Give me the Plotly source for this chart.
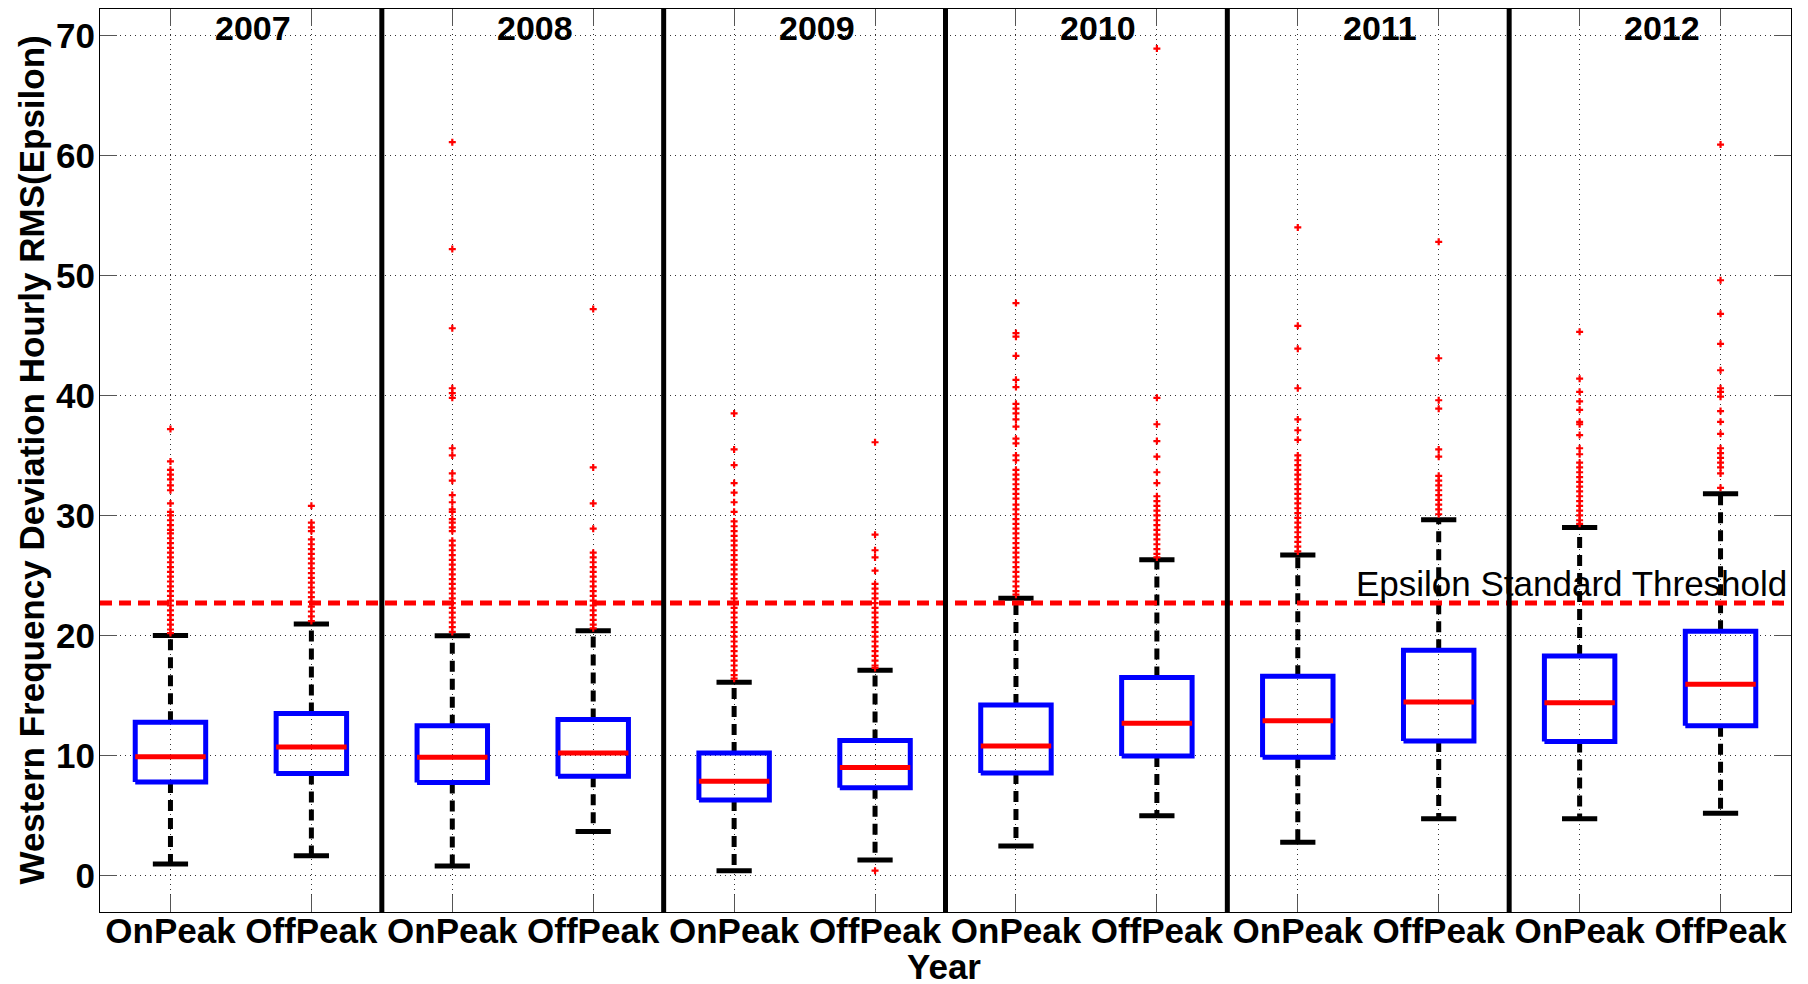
import plotly.graph_objects as go

# ---------------- data ----------------
years = ["2007", "2008", "2009", "2010", "2011", "2012"]
periods = ["OnPeak", "OffPeak"]

# box statistics, order: 2007 On, 2007 Off, 2008 On, ... 2012 Off
lower_whisker = [0.96, 1.65, 0.80, 3.67, 0.40, 1.30, 2.46, 4.98, 2.78, 4.72, 4.72, 5.19]
q1_vals       = [7.80, 8.50, 7.76, 8.28, 6.30, 7.32, 8.54, 9.96, 9.85, 11.20, 11.16, 12.47]
median_vals   = [9.90, 10.70, 9.85, 10.20, 7.86, 9.00, 10.80, 12.68, 12.90, 14.46, 14.40, 15.93]
q3_vals       = [12.77, 13.50, 12.47, 13.00, 10.20, 11.25, 14.20, 16.50, 16.60, 18.76, 18.30, 20.35]
upper_whisker = [20.00, 20.95, 19.97, 20.40, 16.10, 17.10, 23.10, 26.30, 26.70, 29.65, 29.00, 31.80]

outliers_2007_on = [37.2, 34.5, 33.8, 33.4, 33.0, 32.5, 32.1, 31.0, 30.3, 30.0, 29.6, 29.2, 28.8, 28.5,
                    28.1, 27.7, 27.3, 26.9, 26.5, 26.1, 25.7, 25.3, 24.9, 24.5, 24.1, 23.7, 23.3, 22.9,
                    22.5, 22.1, 21.7, 21.3, 20.9, 20.5, 20.2]
outliers_2007_off = [30.8, 29.4, 29.0, 28.7, 28.0, 27.6, 27.2, 26.8, 26.4, 26.0, 25.6, 25.2, 24.8, 24.4,
                     24.0, 23.6, 23.2, 22.8, 22.4, 22.0, 21.6, 21.2]
outliers_2008_on = [61.1, 52.2, 45.6, 40.6, 40.2, 39.8, 35.6, 35.0, 33.5, 32.9, 31.7, 31.1, 30.5, 30.3,
                    29.7, 29.4, 29.0, 28.7, 27.9, 27.5, 27.1, 26.7, 26.3, 25.9, 25.5, 25.1, 24.7, 24.3,
                    23.9, 23.5, 23.1, 22.7, 22.3, 21.9, 21.5, 21.1, 20.7, 20.3]
outliers_2008_off = [47.2, 34.0, 31.0, 28.9, 26.9, 26.5, 26.1, 25.7, 25.3, 24.9, 24.5, 24.1, 23.7, 23.3,
                     22.9, 22.5, 22.1, 21.7, 21.3, 20.9, 20.6]
outliers_2009_on = [38.5, 35.5, 34.2, 32.7, 31.9, 31.1, 30.3, 29.5, 29.1, 28.7, 28.3, 27.9, 27.5, 27.1,
                    26.7, 26.3, 25.9, 25.5, 25.1, 24.7, 24.3, 23.9, 23.5, 23.1, 22.7, 22.3, 21.9, 21.5,
                    21.1, 20.7, 20.3, 19.9, 19.5, 19.1, 18.7, 18.3, 17.9, 17.5, 17.1, 16.7, 16.4]
outliers_2009_off = [36.1, 28.4, 27.1, 26.5, 25.4, 24.3, 23.9, 23.5, 23.1, 22.7, 22.3, 21.9, 21.5, 21.1,
                     20.7, 20.3, 19.9, 19.5, 19.1, 18.7, 18.3, 17.9, 17.5, 17.3, 0.4]
outliers_2010_on = [47.7, 45.2, 44.9, 43.3, 41.3, 40.7, 39.3, 38.9, 38.5, 38.0, 37.4, 36.4, 36.0, 35.0,
                    34.6, 33.8, 33.4, 33.0, 32.6, 32.2, 31.8, 31.4, 30.9, 30.5, 30.1, 29.7, 29.3, 28.9,
                    28.5, 28.1, 27.7, 27.3, 26.9, 26.5, 26.1, 25.7, 25.3, 24.9, 24.5, 24.1, 23.7, 23.4]
outliers_2010_off = [68.9, 39.8, 37.6, 36.2, 34.9, 33.6, 32.7, 31.6, 31.2, 30.8, 30.4, 30.0, 29.6, 29.2,
                     28.8, 28.4, 28.0, 27.6, 27.2, 26.8, 26.5]
outliers_2011_on = [54.0, 45.8, 43.9, 40.6, 38.0, 37.1, 36.3, 35.0, 34.6, 34.2, 33.8, 33.4, 33.0, 32.6,
                    32.2, 31.8, 31.4, 31.0, 30.6, 30.2, 29.8, 29.4, 29.0, 28.6, 28.2, 27.8, 27.4, 27.0]
outliers_2011_off = [52.8, 43.1, 39.6, 38.9, 35.5, 34.9, 33.3, 32.9, 32.5, 32.1, 31.7, 31.3, 30.9, 30.5,
                     30.1]
outliers_2012_on = [45.3, 41.4, 40.3, 39.5, 38.8, 37.8, 37.6, 36.7, 35.6, 35.1, 34.4, 34.0, 33.6, 33.2,
                    32.8, 32.4, 32.0, 31.6, 31.2, 30.8, 30.4, 30.0, 29.6, 29.3]
outliers_2012_off = [60.9, 49.6, 46.8, 44.3, 42.1, 40.6, 40.3, 39.9, 38.7, 37.8, 36.8, 35.6, 35.2, 34.8,
                     34.4, 34.0, 33.5, 32.3]

outliers = [outliers_2007_on, outliers_2007_off, outliers_2008_on, outliers_2008_off,
            outliers_2009_on, outliers_2009_off, outliers_2010_on, outliers_2010_off,
            outliers_2011_on, outliers_2011_off, outliers_2012_on, outliers_2012_off]

threshold = 22.7
threshold_label = "Epsilon Standard Threshold"
y_title = "Western Frequency Deviation Hourly RMS(Epsilon)"
x_title = "Year"

# ---------------- styling ----------------
FONT = "Liberation Sans, Arial, Helvetica, sans-serif"
BOX_HALF = 0.25
CAP_HALF = 0.125

n = len(median_vals)
positions = [i + 1 for i in range(n)]
tick_text = [periods[i % 2] for i in range(n)]

box_x, box_y = [], []
med_x, med_y = [], []
wh_x, wh_y = [], []
cap_x, cap_y = [], []
out_x, out_y = [], []
for p, lo, a, m, b, hi, outs in zip(positions, lower_whisker, q1_vals, median_vals, q3_vals,
                                    upper_whisker, outliers):
    box_x += [p - BOX_HALF, p + BOX_HALF, p + BOX_HALF, p - BOX_HALF, p - BOX_HALF, None]
    box_y += [a, a, b, b, a, None]
    med_x += [p - BOX_HALF, p + BOX_HALF, None]
    med_y += [m, m, None]
    wh_x += [p, p, None, p, p, None]
    wh_y += [b, hi, None, a, lo, None]
    cap_x += [p - CAP_HALF, p + CAP_HALF, None, p - CAP_HALF, p + CAP_HALF, None]
    cap_y += [hi, hi, None, lo, lo, None]
    out_x += [p] * len(outs)
    out_y += outs

fig = go.Figure()
fig.add_trace(go.Scatter(x=wh_x, y=wh_y, mode="lines",
                         line=dict(color="black", width=5, dash="11px,7px"), hoverinfo="skip"))
fig.add_trace(go.Scatter(x=cap_x, y=cap_y, mode="lines",
                         line=dict(color="black", width=5), hoverinfo="skip"))
fig.add_trace(go.Scatter(x=out_x, y=out_y, mode="markers",
                         marker=dict(symbol="cross-thin", size=5, color="#FF0000",
                                     line=dict(color="#FF0000", width=2.2)), hoverinfo="y"))
fig.add_trace(go.Scatter(x=box_x, y=box_y, mode="lines",
                         line=dict(color="#0000FF", width=5), hoverinfo="skip"))
fig.add_trace(go.Scatter(x=med_x, y=med_y, mode="lines",
                         line=dict(color="#FF0000", width=5), hoverinfo="skip"))
fig.add_trace(go.Scatter(x=[0.5, 12.5], y=[threshold, threshold], mode="lines",
                         line=dict(color="#FF0000", width=5, dash="12px,7px"), hoverinfo="skip"))

# group dividers
for k in range(1, len(years)):
    fig.add_shape(type="line", xref="x", yref="paper", x0=2 * k + 0.5, x1=2 * k + 0.5, y0=0, y1=1,
                  line=dict(color="black", width=5), layer="above")

# year labels
for k, yr in enumerate(years):
    fig.add_annotation(x=2 * k + 1.5, y=70.6, xref="x", yref="y", text=yr, showarrow=False,
                       xshift=12, xanchor="center", yanchor="middle",
                       font=dict(family=FONT, size=34, color="black", weight="bold"))

fig.add_annotation(x=1, y=threshold, xref="paper", yref="y", text=threshold_label, showarrow=False,
                   xanchor="right", yanchor="bottom", xshift=-2, yshift=-2,
                   font=dict(family=FONT, size=35, color="black"))

fig.add_annotation(x=0, y=0.5, xref="paper", yref="paper", text=y_title, showarrow=False,
                   textangle=-90, xanchor="center", yanchor="middle", xshift=-69,
                   font=dict(family=FONT, size=35, color="black", weight="bold"))
fig.add_annotation(x=0.5, y=0, xref="paper", yref="paper", text=x_title, showarrow=False,
                   xanchor="center", yanchor="middle", yshift=-54, xshift=-2,
                   font=dict(family=FONT, size=35, color="black", weight="bold"))

axis_common = dict(showgrid=True, gridcolor="#333333", griddash="1px,4px", gridwidth=1,
                   ticks="inside", ticklen=17, tickwidth=1, tickcolor="#555555",
                   showline=True, linecolor="black", linewidth=1, mirror="ticks", zeroline=False,
                   tickfont=dict(family=FONT, size=35, color="black", weight="bold"))

fig.update_xaxes(range=[0.5, 12.5], tickmode="array", tickvals=positions, ticktext=tick_text,
                 ticklabelstandoff=-12, **axis_common)
fig.update_yaxes(range=[-3.04, 72.2], tickmode="array", tickvals=[0, 10, 20, 30, 40, 50, 60, 70],
                 ticklabelstandoff=-3, **axis_common)

fig.update_layout(width=1808, height=984, margin=dict(l=100, r=17, t=9, b=72),
                  plot_bgcolor="white", paper_bgcolor="white", showlegend=False,
                  font=dict(family=FONT, color="black"))

fig.write_html("out.html", config={"displayModeBar": False},
               post_script="document.body.style.margin='0px';document.body.style.overflow='hidden';")
